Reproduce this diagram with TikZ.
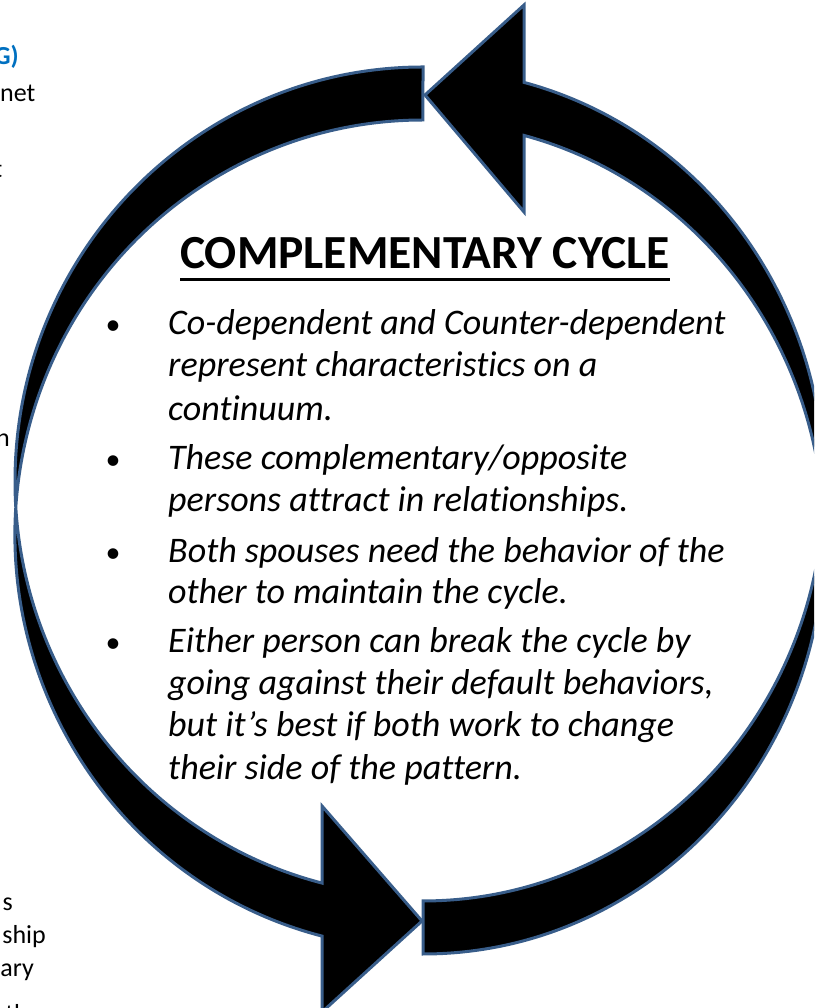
\documentclass[tikz,border=0pt]{standalone}
\usepackage{fontspec}
\setmainfont{Carlito}[Ligatures=NoCommon]
\usetikzlibrary{calc}
\definecolor{edgeblue}{RGB}{56,93,138}
\definecolor{headblue}{RGB}{0,112,192}
\begin{document}
\begin{tikzpicture}[x=1pt,y=1pt,
  band/.style={fill=black, draw=edgeblue, line width=3pt, line join=miter, miter limit=6},
  body/.style={inner sep=0pt, anchor=base west, font=\itshape\fontsize{36}{42}\selectfont},
  dot/.style={inner sep=0pt, anchor=base, font=\fontsize{30}{40}\selectfont},
  frag/.style={inner sep=0pt, anchor=base east, font=\fontsize{26}{32}\selectfont},
  heading/.style={inner sep=0pt, anchor=base west, font=\bfseries\fontsize{47.5}{54}\selectfont}]
\useasboundingbox (0,0) rectangle (814,1008);
\clip (0,0) rectangle (814,1008);

% clipped words of the neighbouring column
\node[frag, text=headblue, font=\bfseries\fontsize{26}{32}\selectfont] (f1) at (19,943) {G)};
\node[frag, anchor=base west] (f2) at (0,906) {net};
\node[frag] (f3) at (2.5,830) {t};
\node[frag] (f4) at (10,561) {n};
\node[frag] (f5) at (13,97) {s};
\node[frag] (f6) at (46,64) {ship};
\node[frag] (f7) at (34,31) {ary};
\node[frag] (f8) at (41,-14) {the};

% left curved arrow: tail at the top, head at the bottom pointing right
\draw[band] (423,941)
  arc[start angle=90, end angle=255.67, x radius=408, y radius=414.5]
  -- (322,202) -- (422,87) -- (322,-4) -- (322,71.9)
  arc[start angle=255.67, end angle=90, x radius=408, y radius=414.5]
  -- cycle;

% right curved arrow: tail at the bottom, head at the top pointing left
\draw[band] (423,54)
  arc[start angle=270, end angle=435.41, x radius=401, y radius=416]
  -- (524,796) -- (425,913) -- (524,1003) -- (524,925.6)
  arc[start angle=75.41, end angle=-90, x radius=401, y radius=416]
  -- cycle;

% heading
\node[heading] (title) at (180,739) {COMPLEMENTARY CYCLE};
\draw[line width=3pt] ($(title.base west)+(0,-11)$) -- ($(title.base east)+(0,-11)$);

% bullet list
\node[dot] (b1) at (113,673) {•};
\node[body] (l1) at (168,673) {Co-dependent and Counter-dependent};
\node[body] (l2) at (168,631) {represent characteristics on a};
\node[body] (l3) at (168,587) {continuum.};
\node[dot] (b2) at (113,538) {•};
\node[body] (l4) at (168,538) {These complementary/opposite};
\node[body] (l5) at (168,496) {persons attract in relationships.};
\node[dot] (b3) at (113,445) {•};
\node[body] (l6) at (168,445) {Both spouses need the behavior of the};
\node[body] (l7) at (168,404) {other to maintain the cycle.};
\node[dot] (b4) at (113,355) {•};
\node[body] (l8) at (168,355) {Either person can break the cycle by};
\node[body] (l9) at (168,313) {going against their default behaviors,};
\node[body] (l10) at (168,271) {but it’s best if both work to change};
\node[body] (l11) at (168,228) {their side of the pattern.};
\end{tikzpicture}
\end{document}
